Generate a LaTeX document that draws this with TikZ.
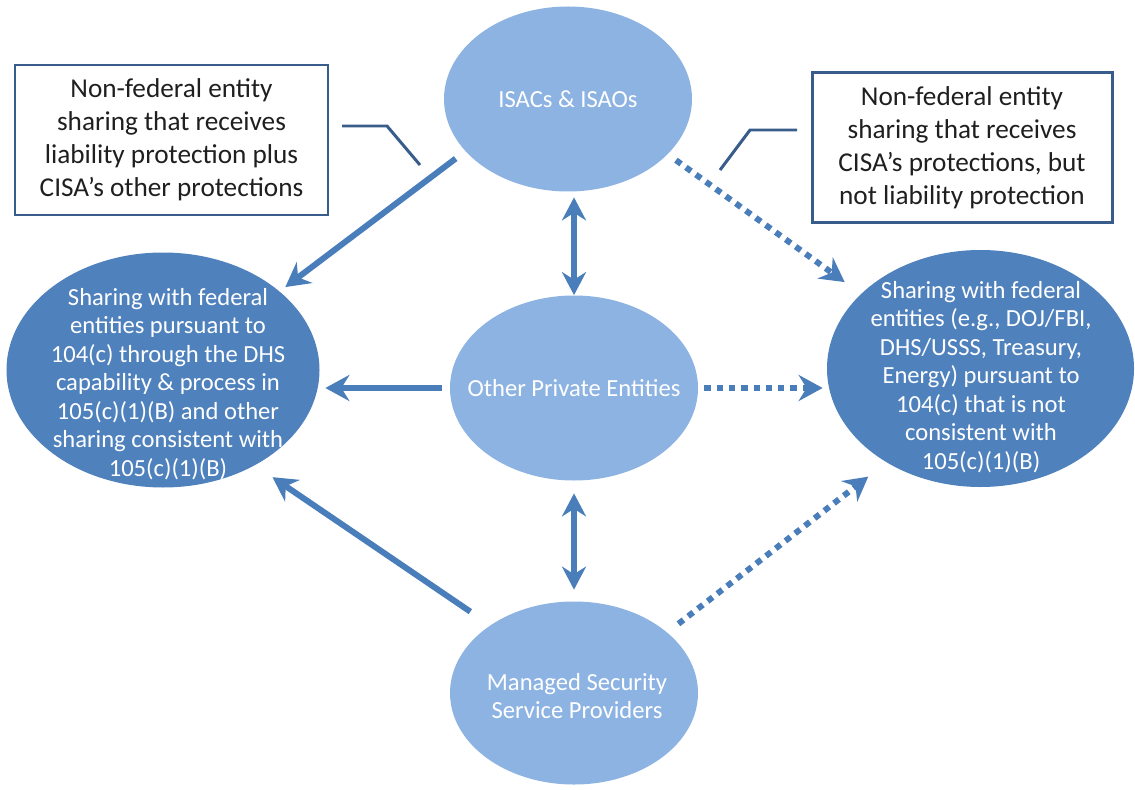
\documentclass[tikz,border=0pt]{standalone}
\usepackage{fontspec}
\setmainfont{Carlito}
\usepackage{tikz}
\usetikzlibrary{arrows.meta, positioning, calc, shapes.geometric}
\definecolor{privblue}{HTML}{8DB3E2}
\definecolor{fedblue}{HTML}{4F81BD}
\definecolor{arrowblue}{HTML}{4A7EBB}
\definecolor{noteblue}{HTML}{385D8A}
\definecolor{notetext}{HTML}{1F1F1F}

\begin{document}
\begin{tikzpicture}[
  party/.style={ellipse, fill=privblue, inner sep=0pt,
    minimum width=4.96cm, minimum height=3.7cm},
  fed/.style={ellipse, fill=fedblue, inner sep=0pt,
    minimum width=6.2cm, minimum height=4.72cm},
  etxt/.style={align=center, text=white, font=\fontsize{14}{16.2}\selectfont},
  note/.style={draw=noteblue, line width=1.7pt, fill=white, align=center,
    minimum height=3cm, font=\fontsize{15.5}{18.7}\selectfont, text=notetext},
  arr/.style={-{Stealth[length=0.48cm, width=0.52cm, inset=0.16cm]},
    line width=3.4pt, arrowblue},
  dotarr/.style={arr, dash pattern=on 3.6pt off 3.4pt},
  dblarr/.style={{Stealth[length=0.46cm, width=0.48cm, inset=0.15cm]}-{Stealth[length=0.46cm, width=0.48cm, inset=0.15cm]},
    line width=3.2pt, arrowblue},
  callout/.style={noteblue, line width=1.7pt}
]
  \useasboundingbox (0, 0) rectangle (22.70, 15.78);

  % Private side
  \node[party] (isac) at (11.36, 13.80) {};
  \node[etxt] (isac-txt) at (isac) {ISACs \& ISAOs};

  \node[party] (other) at (11.48, 8.02) {};
  \node[etxt] (other-txt) at (other) {Other Private Entities};

  \node[party, minimum height=3.66cm] (mssp) at (11.48, 1.92) {};
  \node[etxt] (mssp-txt) at (11.54, 1.86)
    {Managed Security\\Service Providers};

  % Federal side
  \node[fed, minimum width=6.26cm, minimum height=4.7cm] (fedl) at (3.26, 8.38) {};
  \node[etxt] (fedl-txt) at (3.36, 8.10)
    {Sharing with federal\\entities pursuant to\\104(c) through the DHS\\capability \& process in\\105(c)(1)(B) and other\\sharing consistent with\\105(c)(1)(B)};

  \node[fed, minimum width=6.14cm, minimum height=4.74cm] (fedr) at (19.61, 8.41) {};
  \node[etxt] (fedr-txt) at (19.62, 8.24)
    {Sharing with federal\\entities (e.g., DOJ/FBI,\\DHS/USSS, Treasury,\\Energy) pursuant to\\104(c) that is not\\consistent with\\105(c)(1)(B)};

  % Notes
  \node[note, minimum width=6.26cm] (lnote) at (3.43, 12.98)
    {Non-federal entity\\sharing that receives\\liability protection plus\\CISA’s other protections};
  \node[note, minimum width=6.0cm] (rnote) at (19.24, 12.83)
    {Non-federal entity\\sharing that receives\\CISA’s protections, but\\not liability protection};

  \coordinate (lcall) at (6.84, 13.26);
  \coordinate (rcall) at (15.94, 13.18);
  \draw[callout] (lcall) -- ++(0.90, 0) -- ++(0.66, -0.78);
  \draw[callout] (rcall) -- ++(-0.94, 0) -- ++(-0.60, -0.80);

  % Solid arrows
  \draw[arr, shorten <=0.24cm, shorten >=0.14cm] (isac.207) -- (fedl.34);
  \draw[arr, shorten <=0.16cm, shorten >=0.11cm] (other.west) -- (other.west -| fedl.east);
  \draw[arr, shorten <=0.48cm, shorten >=0.42cm] (mssp.141) -- (fedl.314);

  % Dotted arrows
  \draw[dotarr, shorten <=0.20cm, shorten >=0.40cm] (isac.331) -- (fedr.148);
  \draw[dotarr, shorten <=0.12cm, shorten >=0.08cm] (other.east) -- (other.east -| fedr.west);
  \draw[dotarr, shorten <=0.28cm, shorten >=0.46cm] (mssp.33) -- (fedr.225);

  % Two-way arrows
  \draw[dblarr, shorten >=0.11cm] (other.north) -- (other.north |- isac.south);
  \draw[dblarr, shorten <=0.25cm, shorten >=0.23cm] (other.south) -- (mssp.north);
\end{tikzpicture}
\end{document}
